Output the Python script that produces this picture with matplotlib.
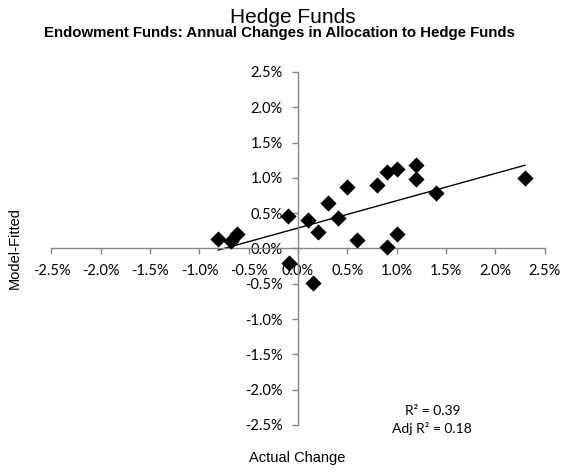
import matplotlib
matplotlib.use('Agg')
import matplotlib.pyplot as plt
import numpy as np
from matplotlib.ticker import FuncFormatter, MultipleLocator

# actual change vs model-fitted change (in %)
actual = [-0.81, -0.68, -0.62, -0.10, -0.09, 0.10, 0.15, 0.20, 0.30, 0.40,
          0.50, 0.60, 0.80, 0.90, 0.90, 1.00, 1.00, 1.20, 1.20, 1.40, 2.30]
fitted = [0.14, 0.10, 0.20, 0.46, -0.20, 0.40, -0.49, 0.24, 0.65, 0.43,
          0.87, 0.12, 0.90, 1.08, 0.02, 1.13, 0.20, 1.18, 0.98, 0.79, 1.00]
r2_text = "R\u00b2 = 0.39\nAdj R\u00b2 = 0.18"

actual = np.array(actual)
fitted = np.array(fitted)

fig = plt.figure(figsize=(5.85, 4.72), dpi=100)
ax = fig.add_axes([0.088, 0.0996, 0.843, 0.748])

ax.scatter(actual, fitted, marker='D', s=68, color='black', zorder=3, linewidths=0)

# linear trend line
coef = np.polyfit(actual, fitted, 1)
xs = np.array([actual.min(), actual.max()])
ax.plot(xs, np.polyval(coef, xs), color='black', lw=1.0, zorder=2)

ax.set_xlim(-2.5, 2.5)
ax.set_ylim(-2.5, 2.5)
ax.xaxis.set_major_locator(MultipleLocator(0.5))
ax.yaxis.set_major_locator(MultipleLocator(0.5))
fmt = FuncFormatter(lambda v, p: '%.1f%%' % v)
ax.xaxis.set_major_formatter(fmt)
ax.yaxis.set_major_formatter(fmt)

for s in ['top', 'right']:
    ax.spines[s].set_visible(False)
ax.spines['left'].set_position(('data', 0))
ax.spines['bottom'].set_position(('data', 0))
for s in ['left', 'bottom']:
    ax.spines[s].set_color('#868686')
    ax.spines[s].set_linewidth(1.0)
ax.tick_params(direction='out', length=4, width=1.0, color='#868686',
               labelsize=10.5, pad=7)
for lbl in ax.get_xticklabels() + ax.get_yticklabels():
    lbl.set_family('Lato')

fig.text(0.5, 0.962, 'Hedge Funds', ha='center', va='center',
         fontsize=15, family='Liberation Sans')
fig.text(0.477, 0.93, 'Endowment Funds: Annual Changes in Allocation to Hedge Funds',
         ha='center', va='center', fontsize=10.8, fontweight='bold',
         family='Liberation Sans')
fig.text(0.026, 0.475, 'Model-Fitted', rotation=90, ha='center', va='center',
         fontsize=10.5, family='Liberation Sans')
fig.text(0.508, 0.03, 'Actual Change', ha='center', va='center',
         fontsize=10.5, family='Liberation Sans')
fig.text(0.739, 0.11, r2_text, ha='center', va='center', fontsize=10,
         family='Lato', linespacing=1.5)

fig.savefig('out.png', dpi=100)
